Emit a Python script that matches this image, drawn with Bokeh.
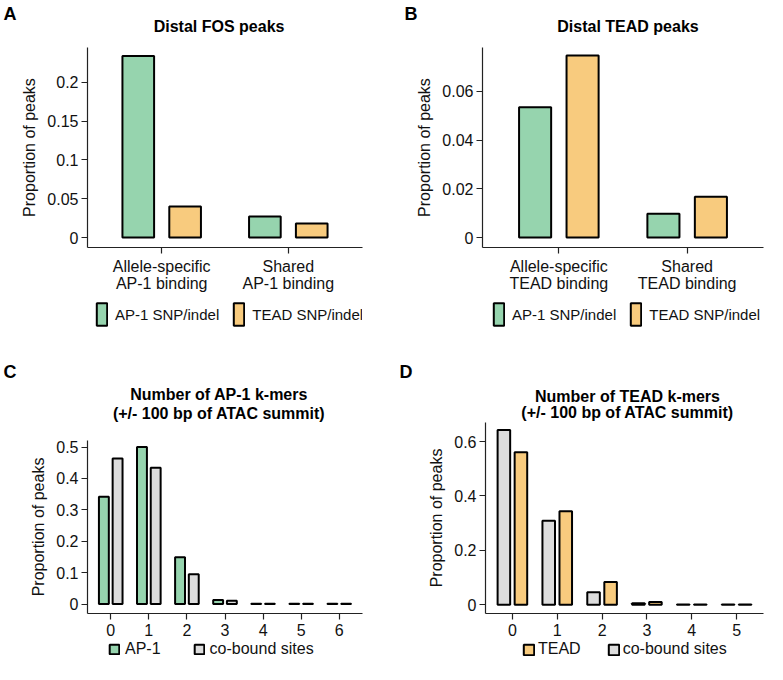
from bokeh.plotting import figure
from bokeh.models import (ColumnDataSource, FactorRange, Range1d, FixedTicker,
                          PrintfTickFormatter, Legend, LegendItem, LinearAxis)
from bokeh.core.properties import value
from bokeh.transform import dodge
from bokeh.layouts import column, row
from bokeh.embed import file_html
from bokeh.resources import INLINE

FONT = "Liberation Sans"
GREEN = "#96D4AE"
ORANGE = "#F8CB7E"
GRAY = "#DDDDDD"

# ---------------- data ----------------
A_categories = ["Allele-specific\nAP-1 binding", "Shared\nAP-1 binding"]
A_ap1_snp = [0.234, 0.027]
A_tead_snp = [0.040, 0.018]
A_yticks = [0, 0.05, 0.1, 0.15, 0.2]

B_categories = ["Allele-specific\nTEAD binding", "Shared\nTEAD binding"]
B_ap1_snp = [0.0535, 0.0098]
B_tead_snp = [0.0747, 0.0167]
B_yticks = [0, 0.02, 0.04, 0.06]

C_kmers = ["0", "1", "2", "3", "4", "5", "6"]
C_ap1 = [0.342, 0.500, 0.149, 0.013, 0.001, 0.001, 0.001]
C_cobound = [0.464, 0.434, 0.095, 0.011, 0.001, 0.001, 0.001]
C_yticks = [0, 0.1, 0.2, 0.3, 0.4, 0.5]

D_kmers = ["0", "1", "2", "3", "4", "5"]
D_cobound = [0.642, 0.309, 0.046, 0.006, 0.001, 0.001]
D_tead = [0.561, 0.344, 0.084, 0.010, 0.001, 0.001]
D_yticks = [0, 0.2, 0.4, 0.6]


def bare(fig):
    fig.xgrid.visible = False
    fig.ygrid.visible = False
    fig.outline_line_color = None
    return fig


def make_header(width, height, bl, br, letter, letter_x, letter_y, lines, title_dx, title_tops):
    fw = width - bl - br
    h = bare(figure(width=width, height=height, output_backend="svg", toolbar_location=None,
                    x_range=Range1d(0, fw), y_range=Range1d(height, 0),
                    x_axis_type=None, y_axis_type=None,
                    min_border_left=bl, min_border_right=br, min_border_top=0,
                    min_border_bottom=0))
    # panel letter: the single tick label of a bare axis in the left margin
    la = LinearAxis(ticker=FixedTicker(ticks=[letter_y]),
                    formatter=PrintfTickFormatter(format=letter))
    la.axis_line_color = None
    la.major_tick_line_color = None
    la.minor_tick_line_color = None
    la.major_tick_in = 0
    la.major_tick_out = 0
    la.major_label_standoff = bl - letter_x - 13
    la.major_label_text_font = FONT
    la.major_label_text_font_size = "18px"
    la.major_label_text_font_style = "bold"
    la.major_label_text_color = "black"
    h.add_layout(la, "left")
    h.text(x=[fw / 2 + title_dx] * len(lines), y=title_tops, text=lines,
           text_font=value(FONT), text_font_size="16px", text_font_style="bold",
           text_baseline="top", text_align="center", text_color="black")
    return h


def source(cats, series):
    data = {"cat": cats}
    for s in series:
        data[s["key"]] = s["values"]
    return ColumnDataSource(data)


def make_panel(cats, series, bar_width, yr, yticks, width, height,
               bl, br, bt, bb, xpad):
    src = source(cats, series)
    p = bare(figure(width=width, height=height, output_backend="svg", toolbar_location=None,
                    x_range=FactorRange(factors=cats, range_padding=xpad,
                                        range_padding_units="absolute"),
                    y_range=Range1d(yr[0], yr[1]),
                    min_border_left=bl, min_border_right=br, min_border_top=bt,
                    min_border_bottom=bb))
    for s in series:
        p.vbar(x=dodge("cat", s["offset"], range=p.x_range), top=s["key"],
               width=bar_width, source=src, fill_color=s["color"],
               line_color="black", line_width=2)
    for ax in (p.xaxis[0], p.yaxis[0]):
        ax.axis_line_color = "#222222"
        ax.axis_line_width = 1.2
        ax.major_tick_line_color = "#222222"
        ax.major_tick_line_width = 1.2
        ax.major_tick_in = 0
        ax.major_tick_out = 6
        ax.minor_tick_line_color = None
        ax.major_label_text_font = FONT
        ax.major_label_text_font_size = "16px"
        ax.major_label_text_color = "#111111"
    p.xaxis.major_label_text_line_height = 1.0
    p.xaxis.major_label_standoff = 4
    p.yaxis.ticker = FixedTicker(ticks=yticks)
    p.yaxis.formatter = PrintfTickFormatter(format="%g")
    p.yaxis.major_label_standoff = 3
    p.yaxis.axis_label = "Proportion of peaks"
    p.yaxis.axis_label_text_font = FONT
    p.yaxis.axis_label_text_font_size = "16px"
    p.yaxis.axis_label_text_font_style = "normal"
    p.yaxis.axis_label_text_color = "#111111"
    p.yaxis.axis_label_standoff = 6
    return p


def make_footer(width, height, bl, br, cats, legend_order, leg):
    # legend strip: key-only proxy renderers (one undrawable NaN row each)
    f = bare(figure(width=width, height=height, output_backend="svg", toolbar_location=None,
                    x_range=FactorRange(factors=cats), y_range=Range1d(10, 11),
                    x_axis_type=None, y_axis_type=None,
                    min_border_left=bl, min_border_right=br, min_border_top=0,
                    min_border_bottom=0))
    items = []
    for s in legend_order:
        proxy = ColumnDataSource(dict(cat=[cats[0]], top=[float("nan")]))
        r = f.vbar(x="cat", top="top", width=0.25, source=proxy, fill_color=s["color"],
                   line_color="black", line_width=2)
        items.append(LegendItem(label=s["label"], renderers=[r]))
    legend = Legend(items=items, orientation="horizontal", location=(leg["x"], 0),
                    glyph_width=leg["gw"], glyph_height=leg["gh"],
                    label_standoff=leg["ls"], spacing=leg["sp"], padding=0, margin=0,
                    border_line_alpha=0, background_fill_alpha=0,
                    label_text_font=FONT, label_text_font_size=leg["fs"],
                    label_text_color="#111111")
    f.add_layout(legend, "center")
    return f


A_series = [dict(key="ap1", values=A_ap1_snp, color=GREEN, offset=-0.185, label="AP-1 SNP/indel"),
            dict(key="tead", values=A_tead_snp, color=ORANGE, offset=0.185, label="TEAD SNP/indel")]
B_series = [dict(key="ap1", values=B_ap1_snp, color=GREEN, offset=-0.185, label="AP-1 SNP/indel"),
            dict(key="tead", values=B_tead_snp, color=ORANGE, offset=0.185, label="TEAD SNP/indel")]
C_series = [dict(key="ap1", values=C_ap1, color=GREEN, offset=-0.18, label="AP-1"),
            dict(key="co", values=C_cobound, color=GRAY, offset=0.18, label="co-bound sites")]
D_series = [dict(key="co", values=D_cobound, color=GRAY, offset=-0.19, label="co-bound sites"),
            dict(key="tead", values=D_tead, color=ORANGE, offset=0.19, label="TEAD")]

# panel A  (header 41 + chart 253 + legend strip 34 = 328)
hA = make_header(382, 41, 84, 20, "A", 0, 7, ["Distal FOS peaks"], -6, [17])
pA = make_panel(A_categories, A_series, 0.25, (-0.0128, 0.245), A_yticks,
                382, 253, 84, 20, 6, 46, 0.086)
fA = make_footer(382, 34, 84, 20, A_categories, A_series,
                 dict(x=8, gw=13, gh=28, ls=7, sp=13, fs="15px"))

# panel B
hB = make_header(383, 41, 100, 2, "B", 22, 7, ["Distal TEAD peaks"], 5, [17])
pB = make_panel(B_categories, B_series, 0.25, (-0.0041, 0.078), B_yticks,
                383, 253, 100, 2, 6, 46, 0.095)
fB = make_footer(383, 34, 100, 2, B_categories, B_series,
                 dict(x=10, gw=13, gh=28, ls=7, sp=13, fs="15px"))

# panel C  (header 106 + chart 205 + legend strip 19 = 330)
hC = make_header(382, 106, 84, 20, "C", 0, 43,
                 ["Number of AP-1 k-mers", "(+/- 100 bp of ATAC summit)"], -6, [57, 76])
pC = make_panel(C_kmers, C_series, 0.26, (-0.03, 0.521), C_yticks,
                382, 205, 84, 20, 6, 26, 0.11)
fC = make_footer(382, 19, 84, 20, C_kmers, C_series,
                 dict(x=21, gw=12, gh=12, ls=5, sp=32, fs="16px"))

# panel D  (header 94 + chart 217 + legend strip 19 = 330)
hD = make_header(383, 94, 103, 2, "D", 17, 43,
                 ["Number of TEAD k-mers", "(+/- 100 bp of ATAC summit)"], 3, [59, 75])
pD = make_panel(D_kmers, D_series, 0.28, (-0.032, 0.67), D_yticks,
                383, 217, 103, 2, 0, 26, 0.1)
fD = make_footer(383, 19, 103, 2, D_kmers, [D_series[1], D_series[0]],
                 dict(x=37, gw=13, gh=13, ls=3, sp=26, fs="16px"))

layout = column(row(column(hA, pA, fA), column(hB, pB, fB)),
                row(column(hC, pC, fC), column(hD, pD, fD)))
open("out.html", "w").write(file_html(layout, INLINE))
